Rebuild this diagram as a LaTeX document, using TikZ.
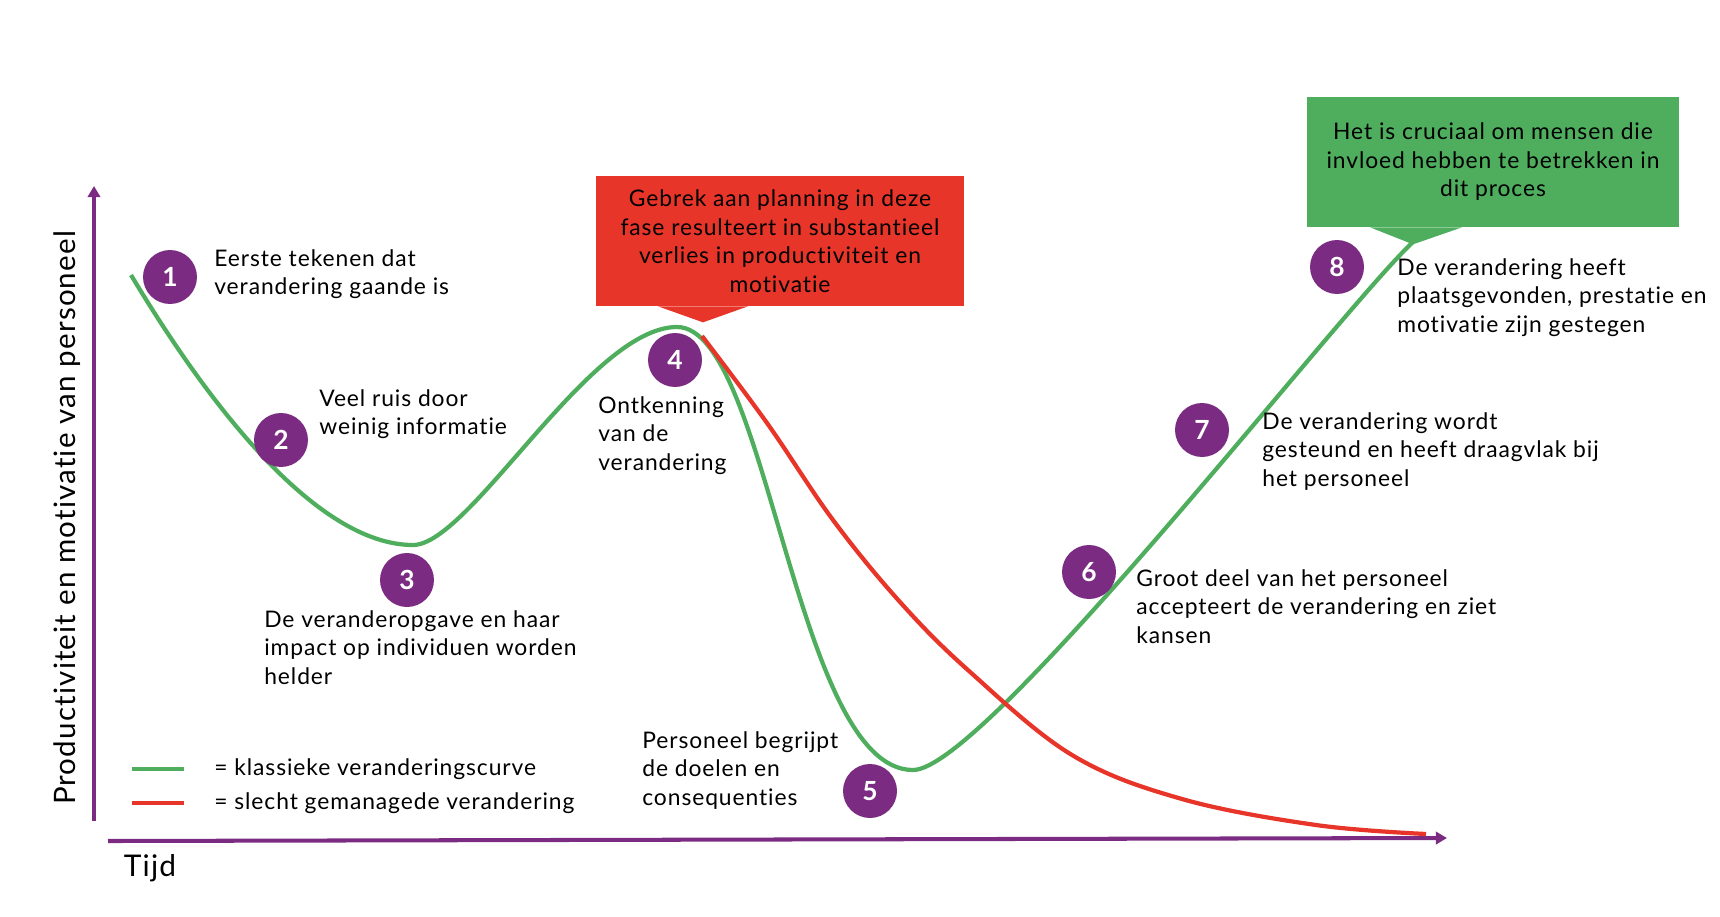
\documentclass[tikz,border=0pt]{standalone}
\usepackage{fontspec}
\setmainfont{Lato}[LetterSpace=4,Ligatures={NoCommon,NoRequired}]
\usepackage{xcolor}
\definecolor{changePurple}{HTML}{7B2C82}
\definecolor{changeGreen}{HTML}{4FAE5E}
\definecolor{changeRed}{HTML}{E8352A}
\usetikzlibrary{arrows.meta,calc}
\tikzset{
  >={Triangle[length=6.3pt,width=7pt]},
  axis/.style={->,draw=changePurple,line width=2.3pt},
  curvegreen/.style={draw=changeGreen,line width=2.4pt},
  curvered/.style={draw=changeRed,line width=2.4pt},
  stepnum/.style={circle,fill=changePurple,text=white,minimum size=1.08cm,inner sep=0pt,font=\fontsize{15}{18}\selectfont\bfseries},
  desc/.style={anchor=north west,align=left,inner sep=0pt,font=\fontsize{13}{16.2}\selectfont},
  callout/.style={rectangle,minimum height=2.6cm,inner sep=0pt,align=center,font=\fontsize{13}{16.2}\selectfont},
  legendtext/.style={anchor=west,inner sep=0pt,font=\fontsize{13}{16.2}\selectfont},
}
\begin{document}
\begin{tikzpicture}[x=0.02cm,y=-0.02cm]
  \useasboundingbox (0,0) rectangle (1720,916);
  \coordinate (origin) at (94,821);
  \coordinate (yTop) at (94,186);
  \coordinate (xStart) at (108,841);
  \coordinate (xEnd) at (1447,838);
  \draw[axis] (origin) -- (yTop);
  \draw[axis] (xStart) -- (xEnd);
  \node[rotate=90, font=\fontsize{16.8}{20}\selectfont] (yLabel) at (67,518) {Productiviteit en motivatie van personeel};
  \node[font=\fontsize{17}{20}\selectfont] (xLabel) at (150,868) {Tijd};

  \coordinate (gStart) at (131,275);
  \coordinate (gLow) at (413,545);
  \coordinate (gPeak) at (677,327);
  \coordinate (gDip) at (913,770);
  \coordinate (gEnd) at (1413,242);
  \draw[curvegreen] (gStart) .. controls (230,440) and (330,545) .. (gLow)
    .. controls (470,545) and (590,327) .. (gPeak)
    .. controls (768,327) and (795,770) .. (gDip)
    .. controls (985,770) and (1340,310) .. (gEnd);
  \draw[curvered] plot[smooth, tension=0.6] coordinates {(702,336) (767,423) (833,520) (900,602) (969,671) (1072,755) (1182,799) (1316,825) (1426,834)};

  \node[callout, fill=changeRed, minimum width=7.36cm] (planBox) at (780,241) {Gebrek aan planning in deze\\fase resulteert in substantieel\\verlies in productiviteit en\\motivatie};
  \fill[changeRed] ($(planBox.south)+(-122,0)$) -- ($(planBox.south)+(-32,0)$) -- ($(planBox.south)+(-77,16)$) -- cycle;
  \node[callout, fill=changeGreen, minimum width=7.44cm] (influenceBox) at (1493,162) {Het is cruciaal om mensen die\\invloed hebben te betrekken in\\dit proces};
  \fill[changeGreen] ($(influenceBox.south)+(-123,0)$) -- ($(influenceBox.south)+(-31,0)$) -- ($(influenceBox.south)+(-80,17)$) -- cycle;

  \node[stepnum] (s1) at (170,277) {1};
  \node[stepnum] (s2) at (281,440) {2};
  \node[stepnum] (s3) at (407,580) {3};
  \node[stepnum] (s4) at (675,360) {4};
  \node[stepnum] (s5) at (870,791) {5};
  \node[stepnum] (s6) at (1089,572) {6};
  \node[stepnum] (s7) at (1202,430) {7};
  \node[stepnum] (s8) at (1337,267) {8};

  \node[desc] (d1) at (214,249) {Eerste tekenen dat\\verandering gaande is};
  \node[desc] (d2) at (319,389) {Veel ruis door\\weinig informatie};
  \node[desc] (d3) at (264,610) {De veranderopgave en haar\\impact op individuen worden\\helder};
  \node[desc] (d4) at (598,396) {Ontkenning\\van de\\verandering};
  \node[desc] (d5) at (642,731) {Personeel begrijpt\\de doelen en\\consequenties};
  \node[desc] (d6) at (1136,569) {Groot deel van het personeel\\accepteert de verandering en ziet\\kansen};
  \node[desc] (d7) at (1262,412) {De verandering wordt\\gesteund en heeft draagvlak bij\\het personeel};
  \node[desc] (d8) at (1397,258) {De verandering heeft\\plaatsgevonden, prestatie en\\motivatie zijn gestegen};

  \coordinate (lgA) at (132,769);
  \coordinate (lgB) at (184,769);
  \coordinate (lrA) at (132,803);
  \coordinate (lrB) at (184,803);
  \draw[curvegreen] (lgA) -- (lgB);
  \draw[curvered] (lrA) -- (lrB);
  \node[legendtext] (lgText) at (214,769) {= klassieke veranderingscurve};
  \node[legendtext] (lrText) at (214,803) {= slecht gemanagede verandering};
\end{tikzpicture}
\end{document}
